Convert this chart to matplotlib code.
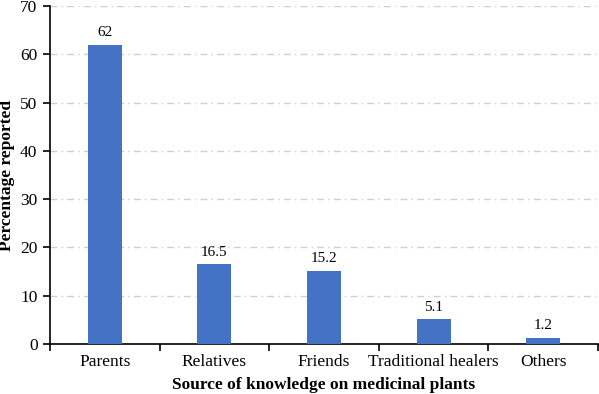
import matplotlib
matplotlib.use("Agg")
import matplotlib.pyplot as plt
import numpy as np

categories = ["Parents", "Relatives", "Friends", "Traditional healers", "Others"]
values = [62, 16.5, 15.2, 5.1, 1.2]
value_labels = ["62", "16.5", "15.2", "5.1", "1.2"]
yticks = [0, 10, 20, 30, 40, 50, 60, 70]

plt.rcParams['font.family'] = ['Liberation Serif', 'DejaVu Serif']

fig = plt.figure(figsize=(5.99, 3.94), dpi=100)
ax = fig.add_axes([50/599, 50/394, 548/599, 338/394])

x = np.arange(len(categories))
ax.bar(x, values, width=0.31, color="#4472C4", zorder=3)
for xi, v, lab in zip(x, values, value_labels):
    ax.text(xi, v + 1.2, lab, ha="center", va="bottom", fontsize=11)

ax.set_xlim(-0.5, len(categories) - 0.5)
ax.set_ylim(0, 70)
ax.set_yticks(yticks)
ax.tick_params(axis='y', labelsize=12.5, direction='out', length=5, width=1.2, pad=4)
ax.set_xticks(x)
ax.set_xticklabels(categories, fontsize=12.5)
ax.tick_params(axis='x', length=0, pad=7)
ax.set_xticks(np.arange(len(categories) + 1) - 0.5, minor=True)
ax.tick_params(axis='x', which='minor', length=5, width=1.2, direction='out')

for yv in yticks[1:]:
    ax.axhline(yv, color="#d0d0d0", lw=1.0, ls=(0, (5, 3, 1, 3)), zorder=1)

for s in ["top", "right"]:
    ax.spines[s].set_visible(False)
ax.spines["left"].set_linewidth(1.2)
ax.spines["bottom"].set_linewidth(1.2)

ax.set_xlabel("Source of knowledge on medicinal plants", fontsize=12.5, fontweight="bold", labelpad=5)
ax.set_ylabel("Percentage reported", fontsize=12.5, fontweight="bold", labelpad=4)

fig.savefig("out.png", dpi=100)
